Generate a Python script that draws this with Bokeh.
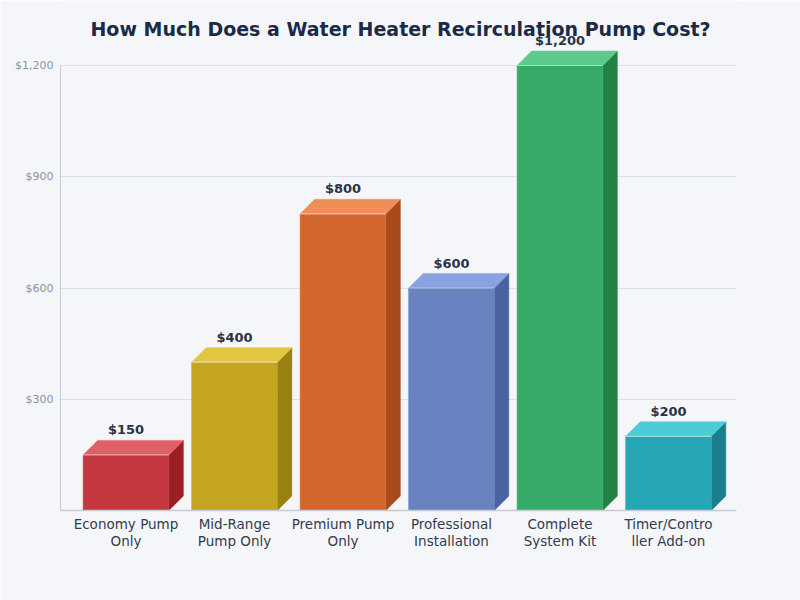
from bokeh.plotting import figure
from bokeh.models import (ColumnDataSource, Range1d, FixedTicker, NumeralTickFormatter,
                          Label)
from bokeh.core.properties import value
from bokeh.embed import file_html
from bokeh.resources import INLINE

# Chart data
categories = ["Economy Pump\nOnly", "Mid-Range\nPump Only", "Premium Pump\nOnly",
              "Professional\nInstallation", "Complete\nSystem Kit", "Timer/Contro\nller Add-on"]
costs = [150, 400, 800, 600, 1200, 200]
value_labels = ["$150", "$400", "$800", "$600", "$1,200", "$200"]
y_ticks = [300, 600, 900, 1200]

front_colors = ["#c4373f", "#c3a51f", "#d2662d", "#6883c0", "#38aa68", "#27a6b5"]
top_colors = ["#e25f67", "#e3c63f", "#ef8e56", "#88a3e0", "#5dca8b", "#4ccbd8"]
side_colors = ["#9a1f25", "#9a8011", "#a94a1d", "#48639f", "#228244", "#1a7f8a"]

FONT = "DejaVu Sans"
BG = "#f5f6fa"
W, H = 800, 600
left_px, right_px, bottom_px = 60, 64, 90

x_start, x_end = -0.6037, 5.627
y_start, y_end = 0, 1375.3

p = figure(width=W, height=H, output_backend="svg", toolbar_location=None,
           x_range=Range1d(x_start, x_end), y_range=Range1d(y_start, y_end),
           min_border_left=left_px, min_border_right=right_px,
           min_border_top=0, min_border_bottom=bottom_px,
           background_fill_color=BG, border_fill_color=BG, outline_line_color=None)

# 3D bar geometry: front face width and depth offset in data units
bw = 0.79
px_x = (W - left_px - right_px) / (x_end - x_start)
px_y = (H - bottom_px) / (y_end - y_start)
dx = 14.5 / px_x
dy = 14.5 / px_y

xs = list(range(len(categories)))
lefts = [x - bw / 2 for x in xs]
rights = [x + bw / 2 for x in xs]

front = ColumnDataSource(dict(left=lefts, right=rights, top=costs,
                              bottom=[0] * len(costs), color=front_colors))
tops = ColumnDataSource(dict(
    xs=[[l, l + dx, r + dx, r] for l, r in zip(lefts, rights)],
    ys=[[v, v + dy, v + dy, v] for v in costs],
    color=top_colors))
sides = ColumnDataSource(dict(
    xs=[[r, r + dx, r + dx, r] for r in rights],
    ys=[[0, dy, v + dy, v] for v in costs],
    color=side_colors))

p.patches("xs", "ys", source=sides, fill_color="color", line_color="color", line_width=0.5)
p.patches("xs", "ys", source=tops, fill_color="color", line_color="color", line_width=0.5)
p.quad(left="left", right="right", top="top", bottom="bottom", source=front,
       fill_color="color", line_color="color", line_width=0.5)
# light highlight along the front top edge
p.segment(x0=lefts, x1=rights, y0=costs, y1=costs, line_color="white",
          line_alpha=0.55, line_width=1.2)

# value labels above each bar
p.text(x=xs, y=[v + dy for v in costs], text=value_labels,
       text_align="center", text_baseline="bottom", y_offset=-3,
       text_font=value(FONT), text_font_size="13px", text_font_style="bold",
       text_color="#2a3346")

# axes
p.yaxis.ticker = FixedTicker(ticks=y_ticks)
p.yaxis.formatter = NumeralTickFormatter(format="$0,0")
p.yaxis.bounds = (0, 1200)
p.yaxis.axis_line_color = "#c5cad4"
p.yaxis.major_tick_line_color = None
p.yaxis.major_tick_out = 0
p.yaxis.minor_tick_line_color = None
p.yaxis.minor_tick_out = 0
p.yaxis.major_label_text_font = FONT
p.yaxis.major_label_text_font_size = "11px"
p.yaxis.major_label_text_color = "#8a92a5"
p.yaxis.major_label_standoff = 7

p.xaxis.ticker = FixedTicker(ticks=xs)
p.xaxis.major_label_overrides = {i: c for i, c in enumerate(categories)}
p.xaxis.axis_line_color = "#c5cad4"
p.xaxis.axis_line_width = 1.5
p.xaxis.major_tick_line_color = None
p.xaxis.major_tick_out = 0
p.xaxis.minor_tick_line_color = None
p.xaxis.minor_tick_out = 0
p.xaxis.major_label_text_font = FONT
p.xaxis.major_label_text_font_size = "13.5px"
p.xaxis.major_label_text_color = "#333b4d"
p.xaxis.major_label_text_line_height = 1.1
p.xaxis.major_label_standoff = 5

p.xgrid.grid_line_color = None
p.ygrid.grid_line_color = "#dde1e8"
p.ygrid.grid_line_width = 1

# title drawn inside the top margin of the frame
title_x = x_start + (W / 2 - left_px) / px_x
title_y = y_start + (H - bottom_px - 28) / px_y
p.add_layout(Label(x=title_x, y=title_y, text="How Much Does a Water Heater Recirculation Pump Cost?",
                   text_align="center", text_baseline="middle", text_font=FONT,
                   text_font_size="19px", text_font_style="bold", text_color="#1b2a47"))

open("out.html", "w").write(file_html(p, INLINE))
